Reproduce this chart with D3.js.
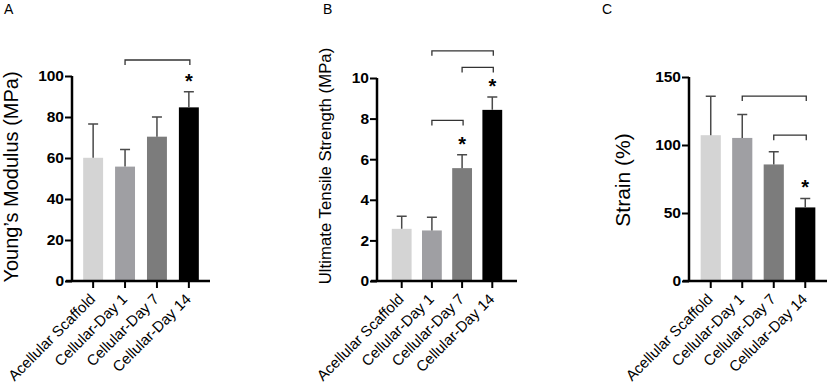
<!DOCTYPE html>
<html>
<head>
<meta charset="utf-8">
<script src="https://cdn.jsdelivr.net/npm/d3@7"></script>
<style>
  body { margin: 0; background: #fff; }
  svg { display: block; font-family: Arial, 'Liberation Sans', sans-serif; }
</style>
</head>
<body>
<div id="chart"></div>
<script>
'use strict';

// Groups and bar fills
const groups = ['Acellular Scaffold', 'Cellular-Day 1', 'Cellular-Day 7', 'Cellular-Day 14'];
const barColors = ['#d4d4d4', '#9f9fa3', '#7c7c7c', '#000000'];

// Panel A - Young's modulus (MPa)
const modulusMean = [60.1, 55.8, 70.4, 84.7];
const modulusSd = [16.5, 8.4, 9.6, 7.6];
const modulusTicks = [0, 20, 40, 60, 80, 100];
const modulusBrackets = [[1, 3, 107.8]];
const modulusStars = [3];

// Panel B - ultimate tensile strength (MPa)
const utsMean = [2.57, 2.49, 5.56, 8.43];
const utsSd = [0.62, 0.65, 0.66, 0.64];
const utsTicks = [0, 2, 4, 6, 8, 10];
const utsBrackets = [[1, 3, 11.34], [2, 3, 10.52], [1, 2, 7.91]];
const utsStars = [2, 3];

// Panel C - strain (%)
const strainMean = [107.2, 105.2, 85.7, 54.1];
const strainSd = [28.6, 17.2, 9.3, 6.6];
const strainTicks = [0, 50, 100, 150];
const strainBrackets = [[1, 3, 136], [2, 3, 107.2]];
const strainStars = [3];

const W = 829, H = 389;
const svg = d3.select('#chart').append('svg')
  .attr('width', W)
  .attr('height', H);

const panels = [
  { letter: 'A', letterX: 4, title: 'Young\u2019s Modulus (MPa)', titleX: 18, titleY: 177, titleSize: 20,
    mean: modulusMean, sd: modulusSd, ticks: modulusTicks, max: 100,
    brackets: modulusBrackets, stars: modulusStars,
    axisX: 72, axisEnd: 210, top: 76, padIn: 0.375, padOut: 0.35 },
  { letter: 'B', letterX: 323, title: 'Ultimate Tensile Strength (MPa)', titleX: 331, titleY: 166, titleSize: 16.8,
    mean: utsMean, sd: utsSd, ticks: utsTicks, max: 10,
    brackets: utsBrackets, stars: utsStars,
    axisX: 377, axisEnd: 517, top: 78, padIn: 0.344, padOut: 0.49 },
  { letter: 'C', letterX: 602, title: 'Strain (%)', titleX: 630, titleY: 180, titleSize: 21,
    mean: strainMean, sd: strainSd, ticks: strainTicks, max: 150,
    brackets: strainBrackets, stars: strainStars,
    axisX: 689, axisEnd: 827, top: 77, padIn: 0.36, padOut: 0.37 }
];

const baseY = 281;

panels.forEach(p => {
  const g = svg.append('g');

  const x = d3.scaleBand()
    .domain(groups)
    .range([p.axisX, p.axisEnd])
    .paddingInner(p.padIn)
    .paddingOuter(p.padOut);
  const y = d3.scaleLinear().domain([0, p.max]).range([baseY, p.top]);

  // panel letter
  g.append('text')
    .attr('x', p.letterX)
    .attr('y', 14)
    .attr('font-size', 14)
    .text(p.letter);

  // y title
  g.append('text')
    .attr('transform', `translate(${p.titleX},${p.titleY}) rotate(-90)`)
    .attr('text-anchor', 'middle')
    .attr('font-size', p.titleSize)
    .text(p.title);

  // bars
  g.selectAll('.bar')
    .data(groups)
    .join('rect')
    .attr('class', 'bar')
    .attr('x', d => x(d))
    .attr('width', x.bandwidth())
    .attr('y', (d, i) => y(p.mean[i]))
    .attr('height', (d, i) => y(0) - y(p.mean[i]))
    .attr('fill', (d, i) => barColors[i]);

  // error bars (upper only)
  const cx = d => x(d) + x.bandwidth() / 2;
  g.selectAll('.err')
    .data(groups)
    .join('path')
    .attr('class', 'err')
    .attr('d', (d, i) => {
      const t = y(p.mean[i] + p.sd[i]);
      return `M${cx(d)},${y(p.mean[i])}V${t}M${cx(d) - 5},${t}H${cx(d) + 5}`;
    })
    .attr('fill', 'none')
    .attr('stroke', '#4a4a4a')
    .attr('stroke-width', 1.5);

  // significance brackets
  g.selectAll('.bracket')
    .data(p.brackets)
    .join('path')
    .attr('class', 'bracket')
    .attr('d', b => {
      const x1 = cx(groups[b[0]]), x2 = cx(groups[b[1]]) + 1, yy = y(b[2]);
      return `M${x1},${yy + 5}V${yy}H${x2}V${yy + 5}`;
    })
    .attr('fill', 'none')
    .attr('stroke', '#333')
    .attr('stroke-width', 1.3);

  // stars
  g.selectAll('.star')
    .data(p.stars)
    .join('text')
    .attr('class', 'star')
    .attr('x', i => cx(groups[i]))
    .attr('y', i => y(p.mean[i] + p.sd[i]) - 4)
    .attr('text-anchor', 'middle')
    .attr('font-size', 20)
    .attr('font-weight', 'bold')
    .text('*');

  // y axis
  const yAxis = g.append('g')
    .attr('transform', `translate(${p.axisX},0)`)
    .call(d3.axisLeft(y).tickValues(p.ticks).tickSize(7).tickSizeOuter(0).tickPadding(1));
  yAxis.select('.domain').attr('stroke-width', 2.5).attr('d', `M0,${y(0)}V${y(p.max)}`);
  yAxis.selectAll('.tick line').attr('stroke-width', 2);
  yAxis.selectAll('.tick text')
    .attr('fill', '#000')
    .attr('font-size', 15.5)
    .attr('font-weight', 'bold')
    .attr('font-family', 'Arial, "Liberation Sans", sans-serif');

  // x axis
  const xAxis = g.append('g')
    .attr('transform', `translate(0,${y(0)})`)
    .call(d3.axisBottom(x).tickSize(7).tickSizeOuter(0));
  xAxis.select('.domain').attr('stroke-width', 2.5).attr('d', `M${p.axisX - 6},0H${p.axisEnd}`);
  xAxis.selectAll('.tick line').attr('stroke-width', 2);
  xAxis.selectAll('.tick text')
    .attr('fill', '#000')
    .attr('font-size', 15)
    .attr('font-family', 'Arial, "Liberation Sans", sans-serif')
    .attr('text-anchor', 'end')
    .attr('transform', 'translate(3,19) rotate(-45)')
    .attr('y', 0)
    .attr('dy', '0')
    .attr('dx', '0');
});
</script>
</body>
</html>
